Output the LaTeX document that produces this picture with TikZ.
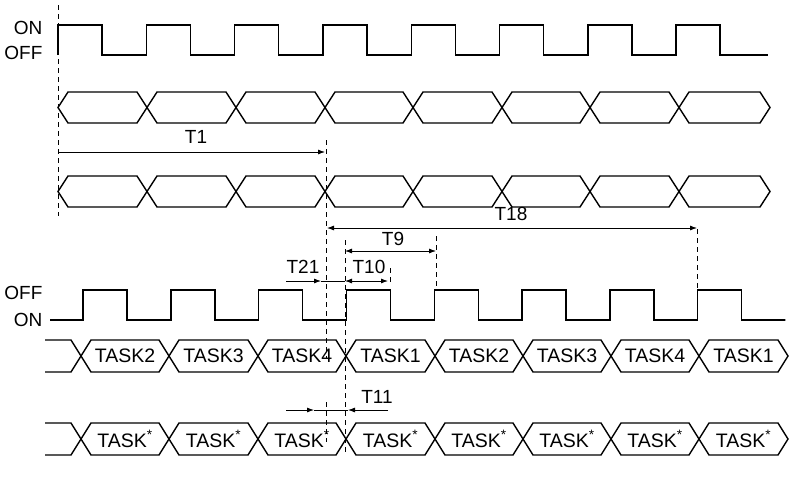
\documentclass[tikz,border=0pt]{standalone}
\usepackage{fontspec}
\setmainfont{Liberation Sans}
\usetikzlibrary{arrows.meta}
\begin{document}
\begin{tikzpicture}[x=1pt,y=-1pt,line width=1.3pt,
  sig/.style={line width=1.4pt},
  dsh/.style={line width=0.8pt,dash pattern=on 5pt off 4pt},
  dim/.style={line width=0.8pt,-{Latex[length=7pt,width=5pt]}},
  dimb/.style={line width=0.8pt,{Latex[length=7pt,width=5pt]}-{Latex[length=7pt,width=5pt]}},
  lab/.style={font=\fontsize{19}{21}\selectfont,inner sep=1pt},
  task/.style={font=\fontsize{19.5}{21}\selectfont,inner sep=0pt}]
\useasboundingbox (0,0) rectangle (792,493);
% top clock
\node[lab,anchor=east] (on1) at (44,28) {ON};
\node[lab,anchor=east] (off1) at (44,53) {OFF};
\draw[sig] (58,55) -- (58,25)
 \foreach \k in {0,...,7}{ -- ({58+88.3*\k},25) -- ({102+88.3*\k},25) -- ({102+88.3*\k},55) -- ({146.3+88.3*\k},55) } -- (768,55);
% buses
\def\busrow#1#2#3{% top, bottom, list
 \foreach \a/\b in {#3}{\draw[sig] (\a,{(#1+#2)/2}) -- (\a+10,#1) -- (\b-10,#1) -- (\b,{(#1+#2)/2}) -- (\b-10,#2) -- (\a+10,#2) -- cycle;}}
\busrow{92}{123}{58/147,147/236,236/325,325/413,413/502,502/590,590/679,679/770}
\busrow{176}{207}{58/147,147/236,236/325,325/413,413/502,502/590,590/679,679/770}
% dashed verticals
\coordinate (d0a) at (58,5); \coordinate (d0b) at (58,216);
\draw[dsh] (d0a) -- (d0b);
\coordinate (d1a) at (326,140); \coordinate (d1b) at (326,358);
\draw[dsh] (d1a) -- (d1b);
\coordinate (d1c) at (326,402); \coordinate (d1d) at (326,442);
\draw[dsh] (d1c) -- (d1d);
\coordinate (d2a) at (345,240); \coordinate (d2b) at (345,455);
\draw[dsh] (d2a) -- (d2b);
\coordinate (d3a) at (436,236); \coordinate (d3b) at (436,287);
\draw[dsh] (d3a) -- (d3b);
\coordinate (d4a) at (697,229); \coordinate (d4b) at (697,290);
\draw[dsh] (d4a) -- (d4b);
\coordinate (d5a) at (390,268); \coordinate (d5b) at (390,283);
\draw[dsh] (d5a) -- (d5b);
% T1
\coordinate (t1a) at (58,152); \coordinate (t1b) at (325,152);
\draw[dim] (t1a) -- (t1b);
\node[lab] (T1) at (196,137) {T1};
% T18
\coordinate (t18a) at (327,228); \coordinate (t18b) at (697,228);
\draw[dimb] (t18a) -- (t18b);
\node[lab] (T18) at (511,214) {T18};
% T9
\coordinate (t9a) at (345,251); \coordinate (t9b) at (436,251);
\draw[dimb] (t9a) -- (t9b);
\node[lab] (T9) at (393,239) {T9};
% T21 / T10
\coordinate (t21a) at (286,281); \coordinate (t21b) at (321,281);
\coordinate (t10a) at (345,281); \coordinate (t10b) at (388,281);
\draw[dim] (t21a) -- (t21b);
\draw[line width=0.8pt] (t21b) -- (t10a);
\draw[dimb] (t10a) -- (t10b);
\node[lab] (T21) at (303,267) {T21};
\node[lab] (T10) at (369,267) {T10};
% bottom clock
\node[lab,anchor=east] (off2) at (44,293) {OFF};
\node[lab,anchor=east] (on2) at (44,320) {ON};
\draw[sig] (50,320) -- (83,320)
 \foreach \k in {0,...,7}{ -- ({83+87.8*\k},320) -- ({83+87.8*\k},290) -- ({127+87.8*\k},290) -- ({127+87.8*\k},320) -- ({170.8+87.8*\k},320)} -- (785,320);
% task rows
\def\taskrow#1#2#3{%
 \draw[sig] (45,#1) -- (71,#1) -- (81,{(#1+#2)/2}) -- (71,#2) -- (45,#2);
 \foreach \a/\b/\t in {#3}{\draw[sig] (\a,{(#1+#2)/2}) -- (\a+10,#1) -- (\b-10,#1) -- (\b,{(#1+#2)/2}) -- (\b-10,#2) -- (\a+10,#2) -- cycle;
  \node[task] at ({(\a+\b)/2},{(#1+#2)/2}) {\t};}}
\taskrow{340}{372}{81/169/TASK2,169/258/TASK3,258/346/TASK4,346/435/TASK1,435/523/TASK2,523/611/TASK3,611/699/TASK4,699/788/TASK1}
\taskrow{423}{455}{81/169/TASK\textsuperscript{*},169/258/TASK\textsuperscript{*},258/346/TASK\textsuperscript{*},346/435/TASK\textsuperscript{*},435/523/TASK\textsuperscript{*},523/611/TASK\textsuperscript{*},611/699/TASK\textsuperscript{*},699/788/TASK\textsuperscript{*}}
% T11
\coordinate (t11a) at (286,410); \coordinate (t11b) at (314,410);
\coordinate (t11c) at (388,410); \coordinate (t11d) at (348,410);
\draw[dim] (t11a) -- (t11b);
\draw[line width=0.8pt] (t11b) -- (t11d);
\draw[dim] (t11c) -- (t11d);
\node[lab] (T11) at (377,397) {T11};
\end{tikzpicture}
\end{document}
